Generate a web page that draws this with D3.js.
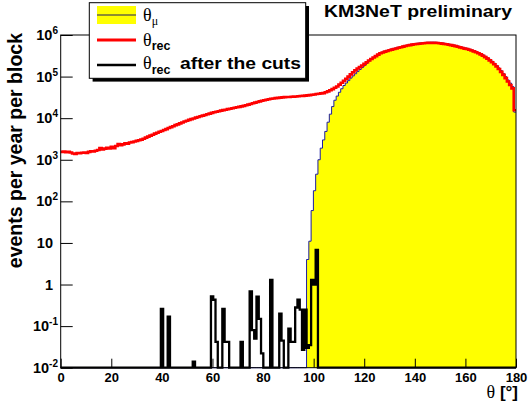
<!DOCTYPE html>
<html>
<head>
<meta charset="utf-8">
<script src="https://cdn.jsdelivr.net/npm/d3@7"></script>
<style>
body { margin: 0; background: #fff; }
svg { display: block; }
text { font-family: "Liberation Sans", Arial, Helvetica, sans-serif; font-weight: bold; fill: #000; }
.serif { font-family: "Liberation Serif", "Times New Roman", serif; font-weight: normal; }
</style>
</head>
<body>
<svg id="chart" width="528" height="409"></svg>
<script>
"use strict";

// histogram range, 200 bins of 0.9 deg
var thetaMin = 0, thetaMax = 180;
var yMin = 1e-2, yMax = 1e6;

// theta_rec, all reconstructed (red)
var thetaRec = [
	1550,1580,1520,1560,1490,1420,1380,1450,1430,1480,
	1500,1460,1550,1600,1580,1650,1720,1900,1780,1850,
	1950,1880,2050,1900,2150,2400,2250,2350,2500,2450,
	2600,2650,2750,2850,2950,3050,3200,3400,3600,3800,
	4000,4250,4450,4700,4900,5200,5450,5800,6100,6400,
	6800,7100,7500,7900,8300,8700,9100,9500,9800,10300,
	10700,11100,11500,11900,12400,12900,13400,13900,14300,14700,
	15200,15600,16000,16500,16900,17300,17800,18300,18700,19200,
	19800,20500,21200,22000,22800,23600,24500,25300,26200,27000,
	27800,28500,29200,29800,30300,30800,31200,31600,32000,32300,
	32400,32700,33000,33300,33600,34000,34400,34900,35400,35900,
	36500,37200,38000,38700,39400,40000,42000,44000,47000,50000,
	54000,58000,64000,71000,79000,89000,100000,113000,127000,142000,
	156000,170000,185000,202000,222000,243000,265000,287000,310000,337000,
	363000,380000,398000,414000,430000,446000,460000,475000,492000,508000,
	525000,542000,558000,572000,586000,598000,608000,617000,626000,634000,
	640000,645000,648000,648000,646000,640000,632000,622000,610000,598000,
	585000,570000,555000,540000,522000,505000,488000,470000,460000,442000,
	424000,405000,385000,364000,342000,318000,294000,270000,246000,222000,
	198000,175000,152000,130000,110000,92000,76000,63000,52000,15500
];

// theta_mu (yellow), first non empty bin and its contents
var thetaMuFirstBin = 108;
var thetaMu = [
	4,11,60,180,450,1000,1900,3000,4800,8000,
	12500,19000,27000,34000,42000,51000,61000,70000,80000,92000,
	104000,117000,132000,148000,165000,185000,208000,235000,262000,290000,
	318000,345000,370000,392000,410000,428000,445000,462000,478000,494000,
	511000,528000,545000,562000,578000,593000,607000,620000,631000,641000,
	650000,658000,664000,669000,672000,672000,670000,664000,656000,646000,
	634000,622000,608000,593000,578000,562000,545000,527000,509000,490000,
	480000,462000,443000,424000,404000,382000,360000,335000,310000,285000,
	260000,235000,210000,186000,162000,140000,119000,100000,83000,70000,
	58000,14000
];

// theta_rec after the cuts (black), only filled bins
var cutBins =   [44,47,58,66,67,68,71,72,73,79,83,84,85,86,87,88,92,96,97,100,101,102,103,104,105,106,107,108,109,110,111,112];
var cutValues = [0.26,0.17,0.014,0.52,0.43,0.042,0.26,0.042,0.042,0.042,0.68,0.08,0.05,0.51,0.15,0.022,1.3,0.2,0.045,0.087,0.042,0.042,0.28,0.43,0.25,0.027,0.25,0.03,0.035,1.3,1.0,6.8];

var xTicks = [0,20,40,60,80,100,120,140,160,180];
var yDecades = [1e-2,1e-1,1,10,1e2,1e3,1e4,1e5,1e6];

var nBins = thetaRec.length;
var binW = (thetaMax - thetaMin) / nBins;

var muFull = thetaRec.map(function(){ return 0; });
thetaMu.forEach(function(v,i){ muFull[thetaMuFirstBin+i] = v; });
var cutFull = thetaRec.map(function(){ return 0; });
cutBins.forEach(function(b,i){ cutFull[b] = cutValues[i]; });

var padL = 60.7, padR = 516, padT = 35, padB = 367.7;

var svg = d3.select("#chart");
var x = d3.scaleLinear().domain([thetaMin, thetaMax]).range([padL, padR]);
var y = d3.scaleLog().domain([yMin, yMax]).range([padB, padT]);

function yPos(v) {
	if (!(v > yMin)) { return padB; }
	return Math.max(padT, y(v));
}
function stepPoints(vals) {
	var pts = vals.map(function(v,i){ return [thetaMin + i*binW, v]; });
	pts.push([thetaMax, vals[vals.length-1]]);
	return pts;
}

var line = d3.line().x(function(d){ return x(d[0]); }).y(function(d){ return yPos(d[1]); }).curve(d3.curveStepAfter);
var area = d3.area().x(function(d){ return x(d[0]); }).y0(padB).y1(function(d){ return yPos(d[1]); }).curve(d3.curveStepAfter);

var plot = svg.append("g");

// theta_mu
plot.append("path").attr("d", area(stepPoints(muFull))).attr("fill", "#ffff00");
plot.append("path").attr("d", line(stepPoints(muFull))).attr("fill", "none").attr("stroke", "#1c1ca0").attr("stroke-width", 1);
// theta_rec
plot.append("path").attr("d", line(stepPoints(thetaRec))).attr("fill", "none").attr("stroke", "#ff0000").attr("stroke-width", 2.6);
// after cuts
plot.append("path").attr("d", line(stepPoints(cutFull))).attr("fill", "none").attr("stroke", "#000").attr("stroke-width", 2.3);

// frame
svg.append("rect").attr("x", padL).attr("y", padT).attr("width", padR-padL).attr("height", padB-padT)
	.attr("fill", "none").attr("stroke", "#000").attr("stroke-width", 1);

// x axis
var gx = svg.append("g").attr("transform", "translate(0," + padB + ")");
gx.call(d3.axisBottom(x).tickValues(d3.range(0, 181, 5)).tickSize(-4.5).tickFormat(""));
gx.call(d3.axisBottom(x).tickValues(xTicks).tickSize(-9).tickPadding(5.5).tickFormat(d3.format("d")));
gx.select(".domain").remove();
gx.selectAll("line").attr("stroke", "#000");
gx.selectAll("text").style("font-size", "13px").style("font-weight", "bold")
	.style("font-family", "'Liberation Sans', Arial, sans-serif");

// y axis
var yMinor = [];
yDecades.slice(0, -1).forEach(function(d){ [2,3,4,5,6,7,8,9].forEach(function(m){ yMinor.push(d*m); }); });
var gy = svg.append("g").attr("transform", "translate(" + padL + ",0)");
gy.call(d3.axisLeft(y).tickValues(yMinor).tickSize(-6).tickFormat(""));
gy.call(d3.axisLeft(y).tickValues(yDecades).tickSize(-12).tickPadding(3));
gy.select(".domain").remove();
gy.selectAll("line").attr("stroke", "#000");
gy.selectAll(".tick text").each(function(d){
	var t = d3.select(this).text("").style("font-size", "14.5px").style("font-weight", "bold")
		.style("font-family", "'Liberation Sans', Arial, sans-serif");
	var e = Math.round(Math.log10(d));
	if (e === 0 || e === 1) {
		t.attr("x", -7.7).text(e === 0 ? "1" : "10");
	} else {
		t.attr("x", -2.7);
		t.append("tspan").text("10");
		t.append("tspan").attr("dy", -6).style("font-size", "10px").text(e);
	}
});

// axis titles
svg.append("text").attr("transform", "translate(22,33) rotate(-90)")
	.attr("text-anchor", "end").style("font-size", "19.5px").text("events per year per block");

var xt = svg.append("text").attr("x", 518).attr("y", 398).attr("text-anchor", "end");
xt.append("tspan").attr("class", "serif").style("font-size", "18px").text("\u03b8");
xt.append("tspan").style("font-size", "17px").text(" [\u00b0]");

// title
svg.append("text").attr("x", 324).attr("y", 17).style("font-size", "17px")
	.attr("textLength", 188).attr("lengthAdjust", "spacingAndGlyphs").text("KM3NeT preliminary");

// legend
var lg = svg.append("g");
lg.append("rect").attr("x", 92.6).attr("y", 6).attr("width", 216.4).attr("height", 75.6).attr("fill", "#000");
lg.append("rect").attr("x", 89.3).attr("y", 2.7).attr("width", 216.4).attr("height", 75.6)
	.attr("fill", "#fff").attr("stroke", "#000").attr("stroke-width", 1);

lg.append("rect").attr("x", 97).attr("y", 6).attr("width", 39).attr("height", 18).attr("fill", "#ffff00");
lg.append("line").attr("x1", 97).attr("x2", 136).attr("y1", 15).attr("y2", 15).attr("stroke", "#1c1c60").attr("stroke-width", 1);
lg.append("line").attr("x1", 97).attr("x2", 136).attr("y1", 40).attr("y2", 40).attr("stroke", "#ff0000").attr("stroke-width", 3);
lg.append("line").attr("x1", 97).attr("x2", 136).attr("y1", 65).attr("y2", 65).attr("stroke", "#000").attr("stroke-width", 2.7);

var l1 = lg.append("text").attr("x", 143).attr("y", 21);
l1.append("tspan").attr("class", "serif").style("font-size", "18px").text("\u03b8");
l1.append("tspan").attr("class", "serif").attr("dy", 4).style("font-size", "12px").text("\u03bc");

var l2 = lg.append("text").attr("x", 143).attr("y", 45.5);
l2.append("tspan").attr("class", "serif").style("font-size", "18px").text("\u03b8");
l2.append("tspan").attr("dy", 4.5).style("font-size", "12.5px").text("rec");

var l3 = lg.append("text").attr("x", 143).attr("y", 69);
l3.append("tspan").attr("class", "serif").style("font-size", "18px").text("\u03b8");
l3.append("tspan").attr("dy", 4.5).style("font-size", "12.5px").text("rec");
lg.append("text").attr("x", 180).attr("y", 69).style("font-size", "17px")
	.attr("textLength", 121).attr("lengthAdjust", "spacingAndGlyphs").text("after the cuts");
</script>
</body>
</html>
